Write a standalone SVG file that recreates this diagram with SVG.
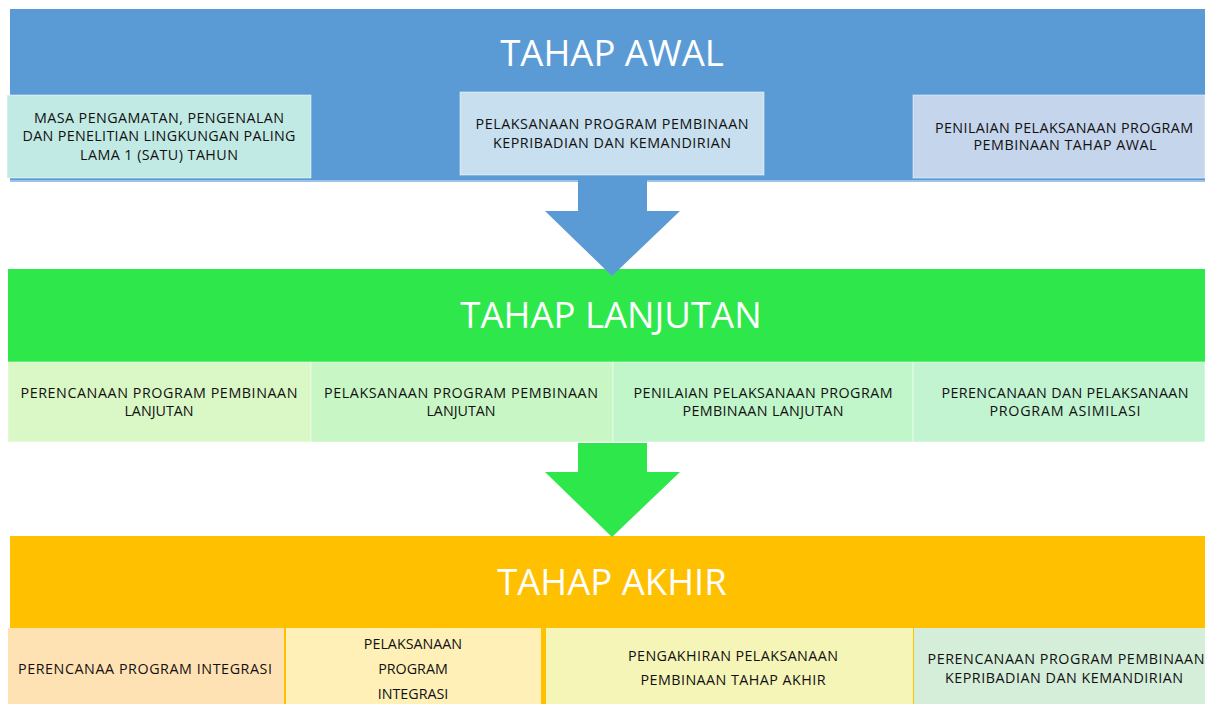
<svg xmlns="http://www.w3.org/2000/svg" width="1205" height="704" viewBox="0 0 1205 704">
<style>
.title{font-family:"Open Sans","Liberation Sans",sans-serif;font-size:36.5px;fill:#ffffff;text-anchor:middle}
.lbl{font-family:"Open Sans","Liberation Sans",sans-serif;font-size:14.3px;fill:#111111;text-anchor:middle}
.sub{stroke:#ffffff;stroke-opacity:0.5;stroke-width:1}
</style>
<rect width="1205" height="704" fill="#ffffff"/>
<g id="tahap-awal">
<rect x="10" y="9" width="1195" height="172" fill="#5B9BD5"/>
<line x1="10" y1="181" x2="1205" y2="181" stroke="#9DC3E6" stroke-width="2"/>
<text class="title" x="612" y="66">TAHAP AWAL</text>
</g>
<g id="awal-1">
<rect class="sub" x="7" y="95" width="304" height="83" fill="#C2EAE4"/>
<text class="lbl" x="159" y="123" textLength="250">MASA PENGAMATAN, PENGENALAN</text>
<text class="lbl" x="159" y="141" textLength="273">DAN PENELITIAN LINGKUNGAN PALING</text>
<text class="lbl" x="159" y="160" textLength="158">LAMA 1 (SATU) TAHUN</text>
</g>
<g id="awal-2">
<rect class="sub" x="460" y="92" width="304" height="83" fill="#C7DFEE"/>
<text class="lbl" x="612" y="129" textLength="273">PELAKSANAAN PROGRAM PEMBINAAN</text>
<text class="lbl" x="612" y="148" textLength="238">KEPRIBADIAN DAN KEMANDIRIAN</text>
</g>
<g id="awal-3">
<rect class="sub" x="913" y="95" width="292" height="83" fill="#C5D5EC"/>
<text class="lbl" x="1064" y="133" textLength="258">PENILAIAN PELAKSANAAN PROGRAM</text>
<text class="lbl" x="1065" y="150" textLength="183">PEMBINAAN TAHAP AWAL</text>
</g>
<g id="tahap-lanjutan">
<rect x="8" y="269" width="1197" height="93" fill="#2EE84B"/>
<text class="title" x="611" y="328">TAHAP LANJUTAN</text>
</g>
<g id="lanjutan-1">
<rect class="sub" x="8" y="362" width="303" height="80" fill="#DAF7C6"/>
<text class="lbl" x="159" y="398" textLength="277">PERENCANAAN PROGRAM PEMBINAAN</text>
<text class="lbl" x="159" y="416">LANJUTAN</text>
</g>
<g id="lanjutan-2">
<rect class="sub" x="311" y="362" width="302" height="80" fill="#C8F7C5"/>
<text class="lbl" x="461" y="398" textLength="274">PELAKSANAAN PROGRAM PEMBINAAN</text>
<text class="lbl" x="461" y="416">LANJUTAN</text>
</g>
<g id="lanjutan-3">
<rect class="sub" x="613" y="362" width="300" height="80" fill="#C1F6CA"/>
<text class="lbl" x="763" y="398" textLength="259">PENILAIAN PELAKSANAAN PROGRAM</text>
<text class="lbl" x="763" y="416" textLength="161">PEMBINAAN LANJUTAN</text>
</g>
<g id="lanjutan-4">
<rect class="sub" x="913" y="362" width="292" height="80" fill="#C2F4D2"/>
<text class="lbl" x="1065" y="398" textLength="247">PERENCANAAN DAN PELAKSANAAN</text>
<text class="lbl" x="1065" y="416" textLength="151">PROGRAM ASIMILASI</text>
</g>
<g id="tahap-akhir">
<rect x="10" y="536" width="1195" height="168" fill="#FFC000"/>
<text class="title" x="612" y="595">TAHAP AKHIR</text>
</g>
<g id="akhir-1">
<rect x="8" y="628" width="276" height="76" fill="#FFE2B4"/>
<text class="lbl" x="145" y="674" textLength="254">PERENCANAA PROGRAM INTEGRASI</text>
</g>
<g id="akhir-2">
<rect x="286" y="628" width="255" height="76" fill="#FFF0B8"/>
<text class="lbl" x="413" y="649">PELAKSANAAN</text>
<text class="lbl" x="413" y="674">PROGRAM</text>
<text class="lbl" x="413" y="699">INTEGRASI</text>
</g>
<g id="akhir-3">
<rect x="546" y="628" width="367" height="76" fill="#F5F5B8"/>
<text class="lbl" x="733" y="661" textLength="210">PENGAKHIRAN PELAKSANAAN</text>
<text class="lbl" x="733" y="685" textLength="185">PEMBINAAN TAHAP AKHIR</text>
</g>
<g id="akhir-4">
<rect x="914" y="628" width="291" height="76" fill="#D5EED9"/>
<text class="lbl" x="1066" y="664" textLength="277">PERENCANAAN PROGRAM PEMBINAAN</text>
<text class="lbl" x="1064" y="683" textLength="238">KEPRIBADIAN DAN KEMANDIRIAN</text>
</g>
<g id="connectors">
<polygon points="578,180 647,180 647,211 680,211 612,276 545,211 578,211" fill="#5B9BD5"/>
<polygon points="578,443 647,443 647,472 680,472 612,537 545,472 578,472" fill="#2EE84B"/>
</g>
</svg>
